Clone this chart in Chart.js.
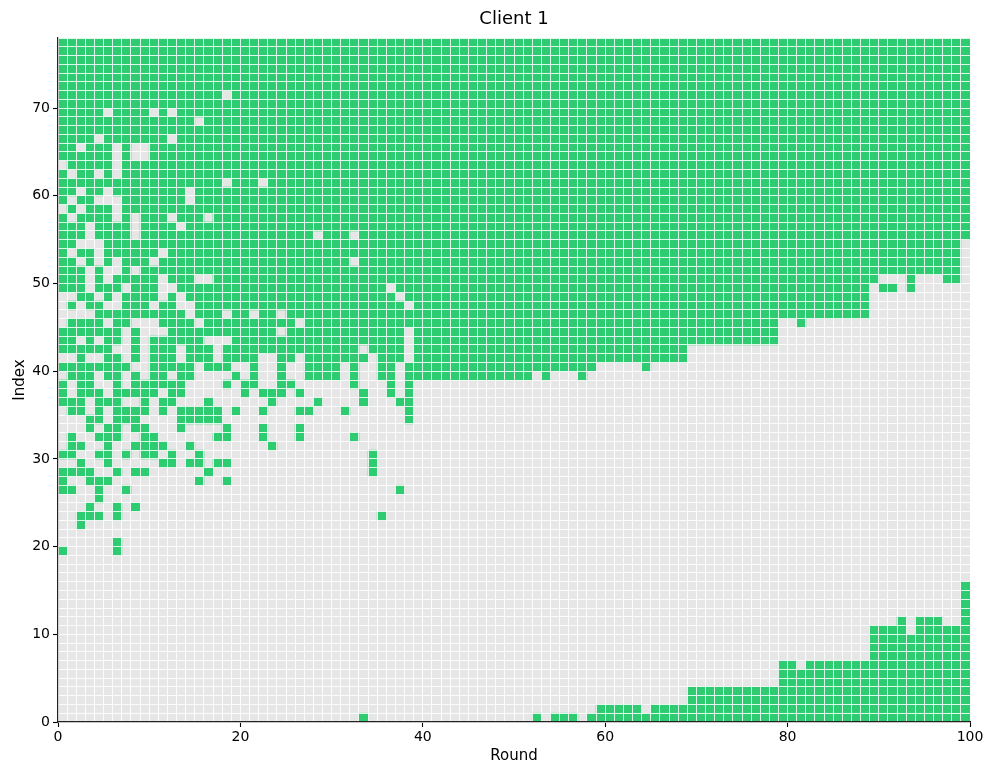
<!DOCTYPE html>
<html>
<head>
<meta charset="utf-8">
<title>Client 1</title>
<script src="https://cdn.jsdelivr.net/npm/chart.js@4.4.1/dist/chart.umd.min.js"></script>
<style>
  html, body { margin: 0; padding: 0; background: #fff; }
</style>
</head>
<body>
<canvas id="js--heatmap" width="996" height="777"></canvas>
<script>
// groene cellen per index (rij), als rondes "a-b" (inclusief)
const greenRuns = [
    "33,52,54-56,58-99",                                         // 0
    "59-63,65-99",                                               // 1
    "69-99",                                                     // 2
    "69-99",                                                     // 3
    "79-99",                                                     // 4
    "79-99",                                                     // 5
    "79-80,82-99",                                               // 6
    "89-99",                                                     // 7
    "89-99",                                                     // 8
    "89-99",                                                     // 9
    "89-92,94-99",                                               // 10
    "92,94-96,99",                                               // 11
    "99",                                                        // 12
    "99",                                                        // 13
    "99",                                                        // 14
    "99",                                                        // 15
    "",                                                          // 16
    "",                                                          // 17
    "",                                                          // 18
    "0,6",                                                       // 19
    "6",                                                         // 20
    "",                                                          // 21
    "2",                                                         // 22
    "2-4,6,35",                                                  // 23
    "3,6,8",                                                     // 24
    "4",                                                         // 25
    "0-1,4,7,37",                                                // 26
    "0,3-5,15,18",                                               // 27
    "0-3,6,8-9,16,34",                                           // 28
    "2,5,11-12,14-15,17-18,34",                                  // 29
    "0-1,4-5,7,9-10,12,15,34",                                   // 30
    "1-2,5,8-11,14,23",                                          // 31
    "1,4-6,9-10,17-18,22,26,32",                                 // 32
    "3,5-6,8-9,13,18,22,26",                                     // 33
    "3-4,6-8,13-17,38",                                          // 34
    "1-2,4,6-9,11,13-17,19,22,26-27,31,38",                      // 35
    "0-2,4-6,9,11-12,16,23,28,33,37-38",                         // 36
    "0,2-4,6-10,12-13,20,22-24,26,33,36,38",                     // 37
    "0,2-3,6,8-13,18,20-21,24-25,32,36,38",                      // 38
    "1-3,5-6,8,10-11,13-14,19,21,24,27-30,32,35-36,38-51,53,57", // 39
    "0-7,10-14,16-18,21,24,27-30,32,35-36,38-58,64",             // 40
    "2,5-6,8,10-12,14-16,18-21,24-25,27-33,35-37,39-68",         // 41
    "0-5,8,10-12,14-16,18-32,34-37,39-68",                       // 42
    "0-1,3,5-6,8,10-15,19-37,39-78",                             // 43
    "0-6,8,12-23,25-37,39-78",                                   // 44
    "1-4,6-7,11-14,16-25,27-78,81",                              // 45
    "4-13,15-17,19-20,22-23,25-88",                              // 46
    "1,3-4,7-9,11-12,15-37,39-88",                               // 47
    "2-3,5,7-10,12,14-36,38-88",                                 // 48
    "0-2,4-6,8-10,13-35,37-88,90-91,93",                         // 49
    "0-2,4,6-10,12-14,17-89,93,97-98",                           // 50
    "0-2,4,7,9-98",                                              // 51
    "0-1,3,5,7-9,11-31,33-98",                                   // 52
    "0,2-3,5-10,12-98",                                          // 53
    "0-1,5-98",                                                  // 54
    "0-2,4-7,9-27,29-31,33-99",                                  // 55
    "0-2,4-7,9-12,14-99",                                        // 56
    "0,2-5,7,9-11,13-15,17-99",                                  // 57
    "1,3-5,7-99",                                                // 58
    "0,2-3,7-13,15-99",                                          // 59
    "0-1,3-4,6-13,15-99",                                        // 60
    "0-17,19-21,23-99",                                          // 61
    "0,2-3,5,7-99",                                              // 62
    "1-5,7-99",                                                  // 63
    "0-5,7,10-99",                                               // 64
    "0-1,3-5,7,10-99",                                           // 65
    "0-3,5-11,13-99",                                            // 66
    "0-99",                                                      // 67
    "0-14,16-99",                                                // 68
    "0-4,6-9,11,13-99",                                          // 69
    "0-99",                                                      // 70
    "0-17,19-99",                                                // 71
    "0-99",                                                      // 72
    "0-99",                                                      // 73
    "0-99",                                                      // 74
    "0-99",                                                      // 75
    "0-99",                                                      // 76
    "0-99",                                                      // 77
];

const roundCount = 100;
const indexCount = greenRuns.length;
const xTicks = [0, 20, 40, 60, 80, 100];
const yTicks = [0, 10, 20, 30, 40, 50, 60, 70];

const GREEN = '#2ecc71';
const GREY = '#e6e6e6';

function parseRuns(str) {
    if (!str) return [];
    return str.split(',').map(function (part) {
        const p = part.split('-').map(Number);
        return [p[0], (p.length > 1 ? p[1] : p[0]) + 1];
    });
}

// floating bars: een per rij (grijs) en een per groene reeks
const greyBars = [];
const greenBars = [];
for (let i = 0; i < indexCount; i++) {
    greyBars.push({x: [0, roundCount], y: i + 0.5});
    parseRuns(greenRuns[i]).forEach(function (r) {
        greenBars.push({x: r, y: i + 0.5});
    });
}

const barStyle = {
    grouped: false,
    barPercentage: 1,
    categoryPercentage: 1,
    borderWidth: 0,
};

function tickMarkColor(list) {
    return function (ctx) {
        return ctx.tick && list.includes(ctx.tick.value) ? '#000' : 'rgba(0,0,0,0)';
    };
}

Chart.defaults.font.family = "'DejaVu Sans', sans-serif";
Chart.defaults.color = '#000';

const config = {
    type: 'bar',
    data: {
        datasets: [
            Object.assign({label: 'groen', data: greenBars, backgroundColor: GREEN}, barStyle),
            Object.assign({label: 'grijs', data: greyBars, backgroundColor: GREY}, barStyle),
        ]
    },
    options: {
        indexAxis: 'y',
        responsive: false,
        animation: false,
        events: [],
        layout: {padding: {left: 0, right: 26, top: 0, bottom: 0}},
        plugins: {
            legend: {display: false},
            tooltip: {enabled: false},
            title: {
                display: true,
                text: 'Client 1',
                fullSize: false,
                color: '#000',
                font: {size: 18, weight: 'normal'},
                padding: {top: 9, bottom: 7.4},
            },
        },
        scales: {
            x: {
                type: 'linear',
                min: 0,
                max: roundCount,
                offset: false,
                afterFit: function (scale) { scale.height = 55; },
                grid: {
                    z: 1,
                    offset: false,
                    color: 'rgba(255,255,255,0.85)',
                    lineWidth: 1,
                    tickLength: 5,
                    tickWidth: 1.1,
                    tickColor: tickMarkColor(xTicks),
                },
                border: {display: true, color: '#222', width: 1.2, z: 2},
                ticks: {
                    stepSize: 1,
                    autoSkip: false,
                    maxRotation: 0,
                    padding: 2,
                    font: {size: 14},
                    callback: function (v) { return xTicks.includes(v) ? String(v) : ''; },
                },
                title: {display: true, text: 'Round', font: {size: 15}, padding: {top: 0, bottom: 12}},
            },
            y: {
                type: 'linear',
                min: 0,
                max: indexCount,
                offset: false,
                afterFit: function (scale) { scale.width = 58; },
                grid: {
                    z: 1,
                    offset: false,
                    color: 'rgba(255,255,255,0.85)',
                    lineWidth: 1,
                    tickLength: 5,
                    tickWidth: 1.1,
                    tickColor: tickMarkColor(yTicks),
                },
                border: {display: true, color: '#222', width: 1.2, z: 2},
                ticks: {
                    stepSize: 1,
                    autoSkip: false,
                    padding: 3,
                    font: {size: 14},
                    callback: function (v) { return yTicks.includes(v) ? String(v) : ''; },
                },
                title: {display: true, text: 'Index', font: {size: 15}, padding: {top: 11, bottom: 0}},
            },
        },
    },
};

const heatmap = new Chart(document.getElementById('js--heatmap'), config);
</script>
</body>
</html>
